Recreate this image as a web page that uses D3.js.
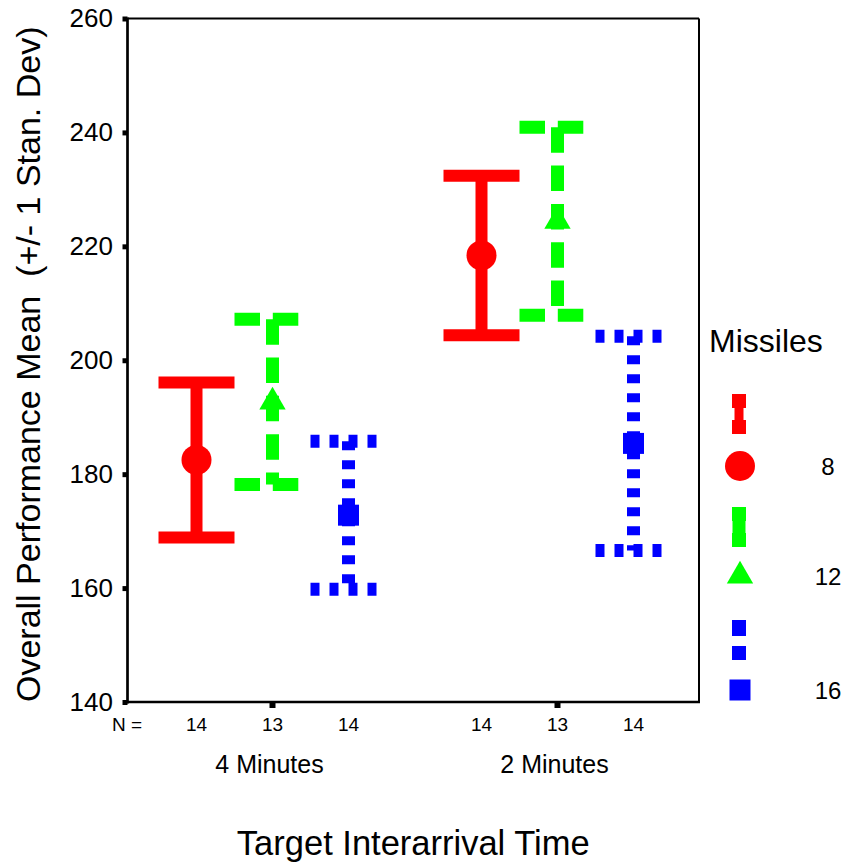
<!DOCTYPE html>
<html>
<head>
<meta charset="utf-8">
<script src="https://cdn.jsdelivr.net/npm/d3@7"></script>
<style>
  body { margin: 0; background: #fff; }
  svg { display: block; font-family: "Liberation Sans", Arial, sans-serif; }
</style>
</head>
<body>
<div id="chart"></div>
<script>
// Target interarrival time groups and missile counts
const groups = ["4 Minutes", "2 Minutes"];
const series = ["8", "12", "16"];

// mean and standard deviation, one row per series, one entry per group
const means = [
    [182.5, 218.4],
    [192.7, 224.4],
    [172.8, 185.4]
];
const sds = [
    [13.6, 14.0],
    [14.5, 16.5],
    [13.0, 18.8]
];
const counts = [
    [14, 14],
    [13, 13],
    [14, 14]
];
const yTicks = [140, 160, 180, 200, 220, 240, 260];

// styling per series
const colors = ["#ff0000", "#00ff00", "#0000ff"];
const dashes = [null, "25.5,12.8", "9,10"];
const widths = [12, 13, 13];
const symbols = [d3.symbolCircle, d3.symbolTriangle, d3.symbolSquare];
const symbolSizes = [707, 300, 441];

const width = 844, height = 863;
const plotLeft = 127.5, plotRight = 699, plotTop = 18.5, plotBottom = 702;

const svg = d3.select('#chart').append('svg')
    .attr('width', width)
    .attr('height', height);

const y = d3.scaleLinear().domain([140, 260]).range([plotBottom, plotTop]);
const x = d3.scaleBand().domain(groups).range([130, 700]);
const xInner = d3.scalePoint().domain(series).range([-76, 76]);
const cx = (g, s) => x(g) + x.bandwidth() / 2 + xInner(s);

// frame
svg.append('line').attr('x1', plotLeft).attr('x2', plotRight).attr('y1', plotTop).attr('y2', plotTop)
    .attr('stroke', '#000').attr('stroke-width', 2);
svg.append('line').attr('x1', plotRight).attr('x2', plotRight).attr('y1', plotTop).attr('y2', plotBottom)
    .attr('stroke', '#000').attr('stroke-width', 2);

// y axis
const yAxis = svg.append('g')
    .attr('transform', `translate(${plotLeft},0)`)
    .call(d3.axisLeft(y).tickValues(yTicks).tickSize(5).tickPadding(9.5));
yAxis.select('.domain').remove();
yAxis.selectAll('.tick line').attr('stroke-width', 5);
yAxis.selectAll('.tick text')
    .attr('font-size', 26)
    .attr('font-family', '"Liberation Sans", Arial, sans-serif')
    .attr('fill', '#000');

// x axis
const xAxis = svg.append('g')
    .attr('transform', `translate(0,${plotBottom})`)
    .call(d3.axisBottom(x).tickSize(6).tickFormat(''));
xAxis.select('.domain').remove();
xAxis.selectAll('.tick line').attr('stroke-width', 6);

svg.append('line').attr('x1', plotLeft).attr('x2', plotLeft).attr('y1', plotTop - 1).attr('y2', plotBottom + 1.5)
    .attr('stroke', '#000').attr('stroke-width', 2.7);
svg.append('line').attr('x1', plotLeft - 1).attr('x2', plotRight + 1).attr('y1', plotBottom).attr('y2', plotBottom)
    .attr('stroke', '#000').attr('stroke-width', 2.7);

// group labels
svg.selectAll('.group-label')
    .data(groups)
    .enter().append('text')
    .attr('class', 'group-label')
    .attr('x', d => x(d) + x.bandwidth() / 2 - 3)
    .attr('y', 773)
    .attr('text-anchor', 'middle')
    .attr('font-size', 25)
    .text(d => d);

// N = row
svg.append('text')
    .attr('x', 112).attr('y', 731)
    .attr('font-size', 19)
    .text('N =');

// error bars
const cells = [];
series.forEach((s, i) => {
    groups.forEach((g, j) => {
        cells.push({ s, i, g, j, mean: means[i][j], sd: sds[i][j], n: counts[i][j] });
    });
});

svg.selectAll('.n-label')
    .data(cells)
    .enter().append('text')
    .attr('class', 'n-label')
    .attr('x', d => cx(d.g, d.s))
    .attr('y', 731)
    .attr('text-anchor', 'middle')
    .attr('font-size', 19)
    .text(d => d.n);

const bar = svg.selectAll('.bar')
    .data(cells)
    .enter().append('g')
    .attr('class', 'bar')
    .attr('stroke', d => colors[d.i])
    .attr('stroke-width', d => widths[d.i])
    .attr('stroke-dasharray', d => dashes[d.i]);

bar.append('line')
    .attr('x1', d => cx(d.g, d.s)).attr('x2', d => cx(d.g, d.s))
    .attr('y1', d => y(d.mean + d.sd)).attr('y2', d => y(d.mean - d.sd));

[1, -1].forEach(sign => {
    bar.append('line')
        .attr('x1', d => cx(d.g, d.s) - 38).attr('x2', d => cx(d.g, d.s) + 38)
        .attr('y1', d => y(d.mean + sign * d.sd)).attr('y2', d => y(d.mean + sign * d.sd));
});

svg.selectAll('.marker')
    .data(cells)
    .enter().append('path')
    .attr('class', 'marker')
    .attr('transform', d => `translate(${cx(d.g, d.s)},${y(d.mean)})`)
    .attr('d', d => d3.symbol().type(symbols[d.i]).size(symbolSizes[d.i])())
    .attr('fill', d => colors[d.i]);

// axis titles
svg.append('text')
    .attr('x', (plotLeft + plotRight) / 2).attr('y', 855)
    .attr('text-anchor', 'middle')
    .attr('font-size', 34.5)
    .text('Target Interarrival Time');

svg.append('text')
    .attr('transform', `translate(40,${(plotTop + plotBottom) / 2 + 4}) rotate(-90)`)
    .attr('text-anchor', 'middle')
    .attr('font-size', 34)
    .style('white-space', 'pre')
    .text('Overall Performance Mean  (+/- 1 Stan. Dev)');

// legend
const legend = svg.append('g');
legend.append('text')
    .attr('x', 709).attr('y', 352)
    .attr('font-size', 32)
    .text('Missiles');

const legendY = [414, 527, 640];
const markerY = [466, 576, 690];

series.forEach((s, i) => {
    const gx = 739, gy = legendY[i];
    if (i < 2) {
        [-13, 13].forEach(off => {
            legend.append('line')
                .attr('x1', gx - 7).attr('x2', gx + 7)
                .attr('y1', gy + off).attr('y2', gy + off)
                .attr('stroke', colors[i]).attr('stroke-width', 14);
        });
        legend.append('line')
            .attr('x1', gx).attr('x2', gx)
            .attr('y1', gy - 13).attr('y2', gy + 13)
            .attr('stroke', colors[i]).attr('stroke-width', i === 0 ? 9 : 13);
    } else {
        legend.append('line')
            .attr('x1', gx).attr('x2', gx)
            .attr('y1', gy - 20).attr('y2', gy + 20)
            .attr('stroke', colors[i]).attr('stroke-width', 14)
            .attr('stroke-dasharray', '16,10');
    }
    legend.append('path')
        .attr('transform', `translate(${gx + 1},${markerY[i]})`)
        .attr('d', d3.symbol().type(symbols[i]).size(symbolSizes[i])())
        .attr('fill', colors[i]);
    legend.append('text')
        .attr('x', 828).attr('y', markerY[i] + 9)
        .attr('text-anchor', 'middle')
        .attr('font-size', 24)
        .text(s);
});
</script>
</body>
</html>
